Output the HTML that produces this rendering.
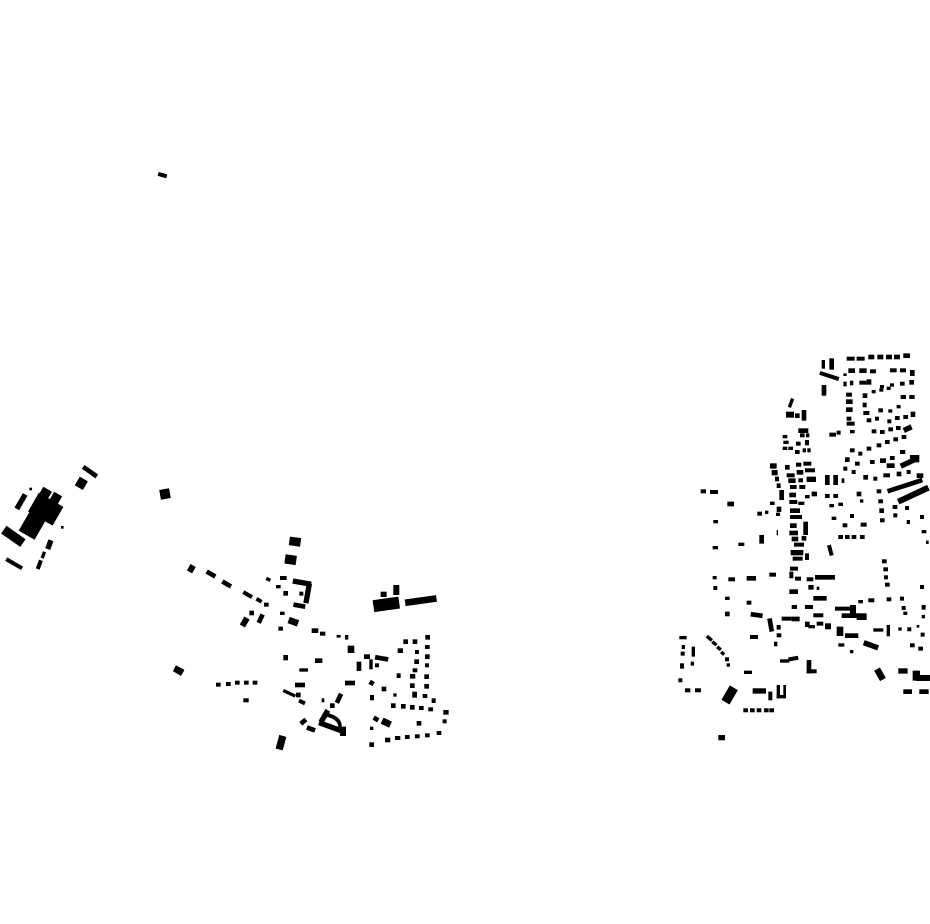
<!DOCTYPE html>
<html><head><meta charset="utf-8"><style>html,body{margin:0;padding:0;background:#fff}svg{display:block}</style></head>
<body>
<svg width="930" height="924" viewBox="0 0 930 924" xmlns="http://www.w3.org/2000/svg" fill="#000">
<rect x="158" y="173" width="9" height="4" transform="rotate(15 162 175)"/>
<rect x="160" y="489" width="10" height="10" transform="rotate(-10 165 494)"/>
<rect x="174" y="667" width="9" height="6" transform="rotate(25 178 670)"/>

<!-- left cluster -->
<g transform="translate(0,460) scale(0.3333)">
<rect x="245" y="28" width="50" height="14" transform="rotate(35 270 35)"/>
<rect x="230" y="55" width="28" height="30" transform="rotate(30 244 70)"/>
<rect x="88" y="83" width="8" height="8"/>
<rect x="55" y="100" width="16" height="50" transform="rotate(30 63 125)"/>
<rect x="118" y="85" width="30" height="40" transform="rotate(30 133 105)"/>
<rect x="152" y="100" width="28" height="35" transform="rotate(30 166 117)"/>
<rect x="95" y="115" width="85" height="65" transform="rotate(30 137 147)"/>
<rect x="70" y="160" width="55" height="70" transform="rotate(30 97 195)"/>
<rect x="183" y="198" width="8" height="8"/>
<rect x="5" y="215" width="70" height="28" transform="rotate(35 40 229)"/>
<rect x="140" y="240" width="16" height="28" transform="rotate(20 148 254)"/>
<rect x="125" y="275" width="10" height="20" transform="rotate(20 130 285)"/>
<rect x="112" y="300" width="12" height="28" transform="rotate(20 118 314)"/>
<rect x="15" y="305" width="55" height="12" transform="rotate(30 42 311)"/>
</g>

<!-- middle cluster -->
<g transform="translate(170,530) scale(0.3333)">
<rect x="358" y="22" width="34" height="26" transform="rotate(8 375 35)"/>
<rect x="345" y="75" width="34" height="28" transform="rotate(8 362 89)"/>
<rect x="55" y="105" width="18" height="22" transform="rotate(30 64 116)"/>
<rect x="108" y="125" width="30" height="14" transform="rotate(30 123 132)"/>
<rect x="155" y="155" width="30" height="14" transform="rotate(30 170 162)"/>
<rect x="218" y="188" width="30" height="12" transform="rotate(30 233 194)"/>
<rect x="258" y="205" width="18" height="12" transform="rotate(30 267 211)"/>
<rect x="282" y="218" width="14" height="12"/>
<rect x="288" y="143" width="14" height="10" transform="rotate(25 295 148)"/>
<rect x="318" y="165" width="14" height="10"/>
<rect x="340" y="183" width="14" height="14"/>
<rect x="330" y="138" width="20" height="12"/>
<rect x="368" y="150" width="56" height="16" transform="rotate(10 396 158)"/>
<rect x="405" y="160" width="16" height="60" transform="rotate(10 413 190)"/>
<rect x="370" y="220" width="36" height="14" transform="rotate(10 388 227)"/>
<rect x="388" y="185" width="12" height="12"/>
<rect x="238" y="242" width="14" height="14"/>
<rect x="265" y="252" width="14" height="28" transform="rotate(25 272 266)"/>
<rect x="215" y="262" width="18" height="28" transform="rotate(30 224 276)"/>
<rect x="330" y="245" width="14" height="10"/>
<rect x="355" y="265" width="30" height="20" transform="rotate(20 370 275)"/>
<rect x="325" y="290" width="14" height="12"/>
<rect x="425" y="295" width="20" height="14"/>
<rect x="450" y="305" width="16" height="12"/>
<rect x="500" y="315" width="12" height="8"/>
<rect x="525" y="315" width="10" height="14"/>
<rect x="533" y="347" width="20" height="22"/>
<rect x="340" y="375" width="14" height="16"/>
<rect x="435" y="385" width="22" height="14"/>
<rect x="388" y="415" width="26" height="10"/>
<rect x="560" y="395" width="14" height="28"/>
<rect x="582" y="373" width="18" height="14"/>
<rect x="598" y="388" width="10" height="30"/>
<rect x="615" y="378" width="40" height="14" transform="rotate(10 635 385)"/>
<rect x="615" y="400" width="12" height="12"/>
<rect x="632" y="185" width="18" height="16"/>
<rect x="670" y="165" width="18" height="30"/>
<rect x="610" y="205" width="78" height="36" transform="rotate(-8 649 223)"/>
<rect x="705" y="202" width="95" height="20" transform="rotate(-8 752 212)"/>
<rect x="12" y="412" width="28" height="20" transform="rotate(30 26 422)"/>
<rect x="138" y="458" width="14" height="12"/><rect x="168" y="456" width="14" height="12"/><rect x="195" y="452" width="14" height="12"/><rect x="222" y="452" width="14" height="12"/><rect x="248" y="452" width="14" height="12"/>
<rect x="220" y="505" width="16" height="12"/>
<rect x="375" y="458" width="30" height="14"/>
<rect x="338" y="485" width="40" height="10" transform="rotate(25 358 490)"/>
<rect x="378" y="488" width="14" height="14"/>
<rect x="386" y="510" width="20" height="12" transform="rotate(25 396 516)"/>
<rect x="455" y="505" width="8" height="12"/>
<rect x="480" y="520" width="14" height="14"/>
<rect x="500" y="490" width="14" height="30" transform="rotate(25 507 505)"/>
<rect x="525" y="452" width="30" height="14"/>
<rect x="598" y="452" width="14" height="14" transform="rotate(30 605 459)"/>
<rect x="600" y="495" width="12" height="16"/>
<rect x="635" y="470" width="14" height="14"/>
<rect x="670" y="490" width="10" height="10"/>
<rect x="683" y="355" width="16" height="14"/><rect x="700" y="328" width="14" height="14"/><rect x="728" y="328" width="14" height="14"/><rect x="766" y="315" width="14" height="14"/>
<rect x="765" y="345" width="14" height="12"/><rect x="765" y="373" width="14" height="14"/><rect x="735" y="360" width="12" height="12"/><rect x="733" y="388" width="14" height="14"/><rect x="765" y="400" width="12" height="12"/>
<rect x="728" y="415" width="14" height="12"/><rect x="680" y="430" width="12" height="14"/><rect x="720" y="432" width="16" height="14"/><rect x="763" y="433" width="14" height="14"/>
<rect x="720" y="460" width="14" height="14"/><rect x="763" y="462" width="14" height="14"/><rect x="727" y="485" width="14" height="18"/><rect x="758" y="492" width="14" height="12"/><rect x="785" y="505" width="12" height="14"/>
<rect x="663" y="520" width="14" height="14"/><rect x="693" y="522" width="14" height="14"/><rect x="720" y="525" width="14" height="14"/><rect x="747" y="528" width="14" height="12"/><rect x="775" y="532" width="14" height="12"/>
<rect x="820" y="540" width="16" height="14"/><rect x="818" y="568" width="12" height="12"/><rect x="740" y="573" width="14" height="14"/>
<rect x="610" y="560" width="16" height="14" transform="rotate(30 618 567)"/>
<rect x="635" y="568" width="28" height="20" transform="rotate(25 649 578)"/>
<rect x="600" y="590" width="10" height="10"/><rect x="598" y="637" width="14" height="14"/>
<rect x="645" y="623" width="16" height="14"/><rect x="675" y="618" width="16" height="12"/><rect x="705" y="615" width="14" height="12"/><rect x="735" y="613" width="14" height="12"/><rect x="765" y="610" width="14" height="12"/><rect x="800" y="603" width="14" height="12"/>
<rect x="455" y="538" width="16" height="42" transform="rotate(30 463 559)"/>
<path d="M470 548 Q520 560 515 595 L505 592 Q505 568 468 560 Z"/>
<rect x="445" y="582" width="70" height="16" transform="rotate(20 480 590)"/>
<rect x="510" y="590" width="18" height="28"/>
<rect x="390" y="568" width="20" height="14" transform="rotate(-40 400 575)"/>
<rect x="410" y="590" width="26" height="14" transform="rotate(20 423 597)"/>
<rect x="322" y="617" width="22" height="42" transform="rotate(15 333 638)"/>
</g>

<!-- right cluster -->
<g transform="translate(670,350) scale(0.3333)">
<rect x="530" y="20" width="24" height="12"/><rect x="560" y="20" width="24" height="12"/><rect x="595" y="14" width="18" height="14"/><rect x="622" y="14" width="18" height="14"/><rect x="648" y="14" width="18" height="14"/><rect x="672" y="14" width="18" height="14"/><rect x="700" y="10" width="20" height="14"/>
<rect x="455" y="30" width="10" height="26"/><rect x="478" y="25" width="14" height="34"/>
<rect x="448" y="72" width="60" height="12" transform="rotate(18 478 78)"/>
<rect x="520" y="70" width="10" height="8"/>
<rect x="535" y="55" width="20" height="14"/><rect x="568" y="55" width="22" height="14"/><rect x="600" y="58" width="18" height="12"/><rect x="660" y="55" width="20" height="12"/><rect x="690" y="55" width="18" height="12"/><rect x="720" y="60" width="14" height="18"/>
<rect x="520" y="95" width="10" height="14"/><rect x="540" y="92" width="10" height="14"/><rect x="568" y="92" width="22" height="12"/><rect x="590" y="88" width="14" height="16"/><rect x="630" y="105" width="12" height="10"/><rect x="660" y="100" width="12" height="10"/><rect x="690" y="95" width="14" height="12"/><rect x="718" y="90" width="14" height="14"/>
<rect x="455" y="105" width="14" height="32"/>
<rect x="528" y="128" width="18" height="12"/><rect x="578" y="130" width="14" height="14"/><rect x="605" y="120" width="12" height="10"/><rect x="628" y="115" width="12" height="10"/><rect x="650" y="110" width="12" height="10"/><rect x="692" y="135" width="16" height="12"/><rect x="718" y="135" width="16" height="12"/>
<rect x="528" y="148" width="20" height="14"/><rect x="528" y="172" width="20" height="14"/><rect x="578" y="158" width="12" height="14"/><rect x="580" y="183" width="18" height="12"/><rect x="625" y="175" width="14" height="12"/><rect x="655" y="178" width="12" height="10"/><rect x="680" y="165" width="12" height="10"/>
<rect x="358" y="145" width="10" height="28" transform="rotate(20 363 159)"/>
<rect x="348" y="185" width="24" height="18"/><rect x="395" y="180" width="14" height="32"/><rect x="375" y="190" width="14" height="14"/>
<rect x="590" y="205" width="14" height="12"/><rect x="615" y="200" width="12" height="12"/><rect x="652" y="208" width="12" height="12"/><rect x="675" y="198" width="14" height="12"/><rect x="700" y="195" width="14" height="12"/><rect x="722" y="185" width="14" height="16"/>
<rect x="530" y="200" width="14" height="12"/><rect x="530" y="215" width="24" height="12"/><rect x="540" y="240" width="14" height="10"/><rect x="478" y="248" width="20" height="12"/><rect x="500" y="242" width="12" height="12"/>
<rect x="605" y="238" width="14" height="12"/><rect x="630" y="240" width="14" height="12"/><rect x="655" y="232" width="14" height="12"/><rect x="678" y="228" width="14" height="12"/><rect x="700" y="228" width="26" height="16" transform="rotate(-25 713 236)"/>
<rect x="385" y="235" width="30" height="14"/>
<rect x="590" y="290" width="14" height="12"/><rect x="620" y="280" width="14" height="12"/><rect x="645" y="270" width="14" height="12"/><rect x="670" y="262" width="14" height="12"/><rect x="695" y="255" width="14" height="12"/>
<rect x="540" y="295" width="14" height="12"/><rect x="565" y="305" width="12" height="12"/><rect x="525" y="322" width="14" height="14"/><rect x="555" y="335" width="14" height="12"/><rect x="520" y="350" width="12" height="12"/><rect x="545" y="360" width="12" height="12"/>
<rect x="600" y="330" width="14" height="12"/><rect x="630" y="325" width="18" height="14"/><rect x="660" y="318" width="14" height="12"/><rect x="690" y="300" width="16" height="12"/>
<rect x="650" y="340" width="24" height="14"/><rect x="690" y="330" width="50" height="16" transform="rotate(-25 715 338)"/><rect x="720" y="315" width="28" height="22"/>
<rect x="580" y="375" width="14" height="14"/><rect x="610" y="380" width="12" height="12"/><rect x="640" y="370" width="20" height="12"/><rect x="680" y="365" width="14" height="14"/><rect x="710" y="360" width="12" height="12"/><rect x="740" y="370" width="20" height="14"/>
<rect x="650" y="400" width="110" height="14" transform="rotate(-18 705 407)"/>
<rect x="680" y="425" width="100" height="18" transform="rotate(-25 730 434)"/>
<rect x="465" y="375" width="14" height="30"/><rect x="490" y="375" width="14" height="30"/><rect x="515" y="385" width="8" height="14"/>
<rect x="465" y="432" width="14" height="12"/><rect x="490" y="432" width="14" height="12"/><rect x="560" y="425" width="14" height="14"/><rect x="570" y="448" width="10" height="10"/><rect x="478" y="462" width="14" height="10"/><rect x="505" y="458" width="14" height="10"/>
<rect x="485" y="500" width="14" height="10"/><rect x="518" y="520" width="14" height="12"/><rect x="540" y="492" width="12" height="12"/><rect x="572" y="518" width="18" height="12"/>
<rect x="505" y="555" width="14" height="12"/><rect x="525" y="555" width="14" height="12"/><rect x="545" y="555" width="14" height="12"/><rect x="570" y="555" width="14" height="12"/>
<rect x="475" y="585" width="12" height="32" transform="rotate(-15 481 601)"/>
<rect x="620" y="418" width="14" height="12"/><rect x="625" y="448" width="14" height="12"/><rect x="628" y="475" width="14" height="14"/><rect x="630" y="505" width="14" height="12"/><rect x="668" y="465" width="14" height="12"/><rect x="670" y="490" width="12" height="12"/><rect x="705" y="468" width="12" height="12"/><rect x="710" y="510" width="10" height="12"/><rect x="750" y="495" width="12" height="12"/><rect x="755" y="540" width="14" height="10"/><rect x="768" y="572" width="8" height="10"/>
<rect x="92" y="418" width="16" height="12"/><rect x="120" y="420" width="24" height="12"/><rect x="172" y="455" width="20" height="14"/><rect x="130" y="510" width="14" height="10"/><rect x="262" y="485" width="14" height="12"/><rect x="285" y="482" width="10" height="10"/><rect x="300" y="455" width="14" height="10"/><rect x="320" y="470" width="14" height="16"/><rect x="318" y="488" width="12" height="10"/><rect x="320" y="540" width="4" height="16"/><rect x="268" y="555" width="14" height="26"/><rect x="205" y="578" width="18" height="10"/><rect x="128" y="588" width="16" height="10"/>
<!-- vertical spine -->
<rect x="338" y="255" width="14" height="10"/><rect x="340" y="272" width="16" height="10"/><rect x="338" y="290" width="14" height="10"/><rect x="355" y="290" width="14" height="10"/><rect x="390" y="250" width="14" height="12"/><rect x="408" y="250" width="10" height="12"/><rect x="378" y="275" width="14" height="12"/><rect x="405" y="270" width="12" height="16"/><rect x="375" y="300" width="14" height="12"/><rect x="398" y="295" width="10" height="12"/><rect x="412" y="295" width="10" height="12"/>
<rect x="300" y="340" width="20" height="16"/><rect x="305" y="360" width="18" height="16"/><rect x="315" y="380" width="12" height="14"/><rect x="320" y="400" width="12" height="14"/><rect x="328" y="420" width="14" height="30"/>
<rect x="345" y="345" width="14" height="14"/><rect x="378" y="338" width="16" height="12"/><rect x="400" y="335" width="24" height="12"/><rect x="350" y="370" width="24" height="12"/><rect x="380" y="360" width="20" height="14"/><rect x="405" y="355" width="30" height="12"/><rect x="355" y="385" width="22" height="14"/><rect x="385" y="385" width="14" height="12"/><rect x="410" y="380" width="28" height="16"/><rect x="360" y="405" width="20" height="12"/><rect x="388" y="405" width="18" height="12"/>
<rect x="358" y="428" width="20" height="14"/><rect x="405" y="435" width="14" height="10"/><rect x="425" y="425" width="16" height="14"/><rect x="358" y="450" width="24" height="12"/><rect x="385" y="455" width="18" height="10"/>
<rect x="360" y="475" width="30" height="14"/><rect x="360" y="495" width="36" height="12"/><rect x="360" y="520" width="20" height="14"/><rect x="400" y="515" width="14" height="40"/><rect x="358" y="542" width="26" height="14"/><rect x="365" y="560" width="20" height="14"/><rect x="395" y="558" width="14" height="14"/><rect x="372" y="578" width="30" height="12"/><rect x="362" y="600" width="38" height="16"/><rect x="368" y="620" width="30" height="12"/><rect x="405" y="610" width="12" height="20"/>
<rect x="360" y="650" width="24" height="12"/><rect x="358" y="665" width="12" height="20"/><rect x="375" y="680" width="18" height="12"/><rect x="358" y="718" width="26" height="14"/><rect x="365" y="765" width="16" height="12"/>
<rect x="636" y="628" width="14" height="12"/><rect x="640" y="652" width="14" height="12"/><rect x="642" y="676" width="12" height="12"/><rect x="645" y="698" width="14" height="12"/><rect x="750" y="705" width="12" height="12"/>
<rect x="128" y="678" width="12" height="10"/><rect x="175" y="682" width="20" height="12"/><rect x="230" y="678" width="28" height="14"/><rect x="298" y="668" width="20" height="12"/><rect x="130" y="708" width="12" height="12"/><rect x="165" y="740" width="14" height="10"/><rect x="230" y="752" width="14" height="12"/><rect x="165" y="785" width="14" height="14"/>
<rect x="242" y="788" width="36" height="14" transform="rotate(8 260 795)"/><rect x="240" y="855" width="24" height="12"/>
<rect x="295" y="805" width="14" height="40" transform="rotate(-10 302 825)"/><rect x="320" y="825" width="12" height="14"/><rect x="320" y="850" width="14" height="12"/><rect x="312" y="875" width="10" height="14"/><rect x="335" y="800" width="30" height="12"/><rect x="365" y="800" width="24" height="14"/><rect x="405" y="815" width="14" height="16"/><rect x="415" y="825" width="20" height="10"/><rect x="440" y="815" width="20" height="12"/><rect x="465" y="820" width="18" height="18"/><rect x="430" y="790" width="30" height="12"/><rect x="430" y="738" width="40" height="14"/><rect x="405" y="765" width="24" height="12"/><rect x="415" y="705" width="16" height="14"/><rect x="440" y="710" width="8" height="10"/><rect x="410" y="682" width="20" height="12"/><rect x="435" y="675" width="60" height="14"/>
<rect x="495" y="770" width="60" height="12"/><rect x="540" y="765" width="18" height="26"/><rect x="515" y="790" width="50" height="14"/><rect x="560" y="790" width="30" height="20"/><rect x="500" y="830" width="20" height="28"/><rect x="525" y="850" width="40" height="14"/><rect x="505" y="880" width="18" height="10"/><rect x="540" y="900" width="10" height="10"/>
<rect x="580" y="878" width="46" height="16" transform="rotate(20 603 886)"/><rect x="610" y="835" width="30" height="10"/><rect x="650" y="825" width="10" height="34"/><rect x="685" y="832" width="10" height="10"/><rect x="712" y="832" width="12" height="12"/><rect x="740" y="825" width="8" height="8"/><rect x="752" y="848" width="12" height="12"/><rect x="720" y="880" width="14" height="12"/><rect x="745" y="890" width="14" height="12"/>
<rect x="690" y="740" width="12" height="12"/><rect x="695" y="768" width="12" height="12"/><rect x="700" y="785" width="12" height="10"/><rect x="755" y="765" width="12" height="14"/><rect x="755" y="795" width="10" height="10"/><rect x="565" y="750" width="14" height="10"/><rect x="595" y="745" width="18" height="12"/><rect x="650" y="742" width="14" height="12"/>
<rect x="330" y="928" width="28" height="10"/><rect x="355" y="920" width="30" height="12" transform="rotate(-10 370 926)"/>
<rect x="410" y="930" width="14" height="40"/><rect x="410" y="958" width="30" height="12"/>
<rect x="620" y="955" width="20" height="36" transform="rotate(-30 630 973)"/>
<rect x="685" y="955" width="28" height="16"/><rect x="728" y="962" width="22" height="30"/><rect x="738" y="975" width="42" height="18"/>
<rect x="700" y="1018" width="26" height="14"/><rect x="748" y="1018" width="28" height="14"/>
<rect x="28" y="858" width="22" height="10"/><rect x="35" y="885" width="10" height="12"/><rect x="65" y="890" width="10" height="30"/><rect x="32" y="905" width="12" height="12"/><rect x="30" y="940" width="12" height="16"/><rect x="62" y="935" width="10" height="12"/><rect x="25" y="985" width="12" height="12"/><rect x="45" y="1015" width="16" height="12"/><rect x="75" y="1015" width="18" height="12"/>
<rect x="108" y="860" width="20" height="10" transform="rotate(40 118 865)"/><rect x="125" y="875" width="16" height="10" transform="rotate(40 133 880)"/><rect x="140" y="890" width="14" height="10" transform="rotate(40 147 895)"/><rect x="152" y="905" width="12" height="10" transform="rotate(40 158 910)"/><rect x="165" y="922" width="12" height="12"/><rect x="170" y="940" width="10" height="10"/>
<rect x="222" y="962" width="24" height="10"/>
<rect x="165" y="1010" width="28" height="50" transform="rotate(30 179 1035)"/>
<rect x="248" y="1015" width="40" height="16"/><rect x="295" y="1025" width="12" height="26"/><rect x="320" y="1005" width="10" height="40"/><rect x="320" y="1035" width="28" height="10"/><rect x="340" y="1005" width="8" height="40"/>
<rect x="220" y="1075" width="14" height="12"/><rect x="240" y="1075" width="14" height="12"/><rect x="260" y="1075" width="14" height="12"/><rect x="282" y="1075" width="14" height="12"/><rect x="298" y="1075" width="14" height="12"/>
<rect x="145" y="1155" width="20" height="16"/>
</g>
</svg>
</body></html>
